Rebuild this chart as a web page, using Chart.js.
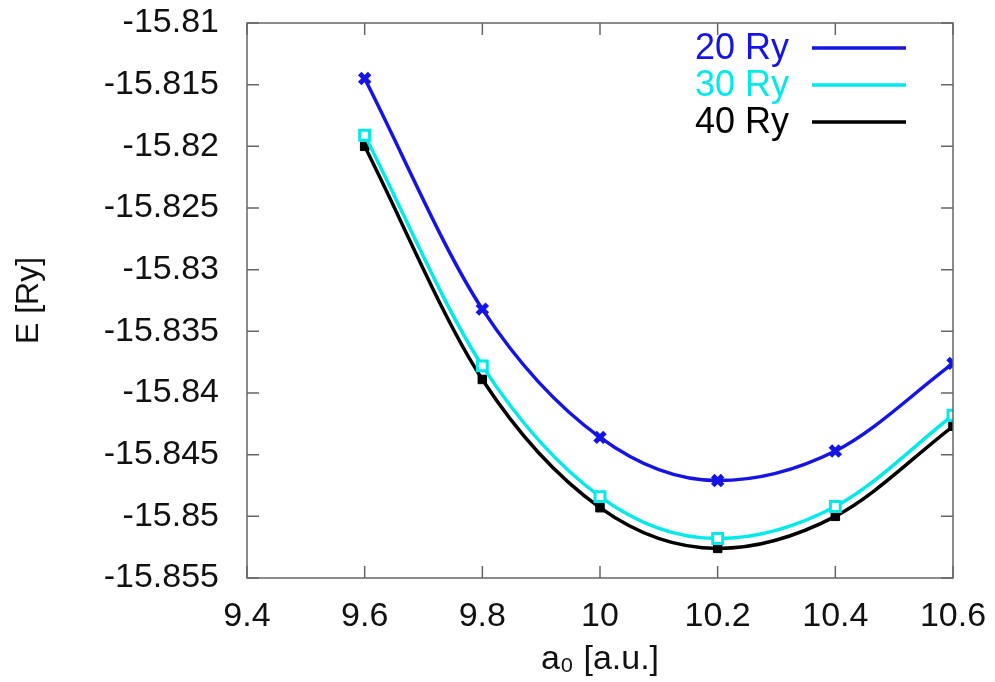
<!DOCTYPE html>
<html lang="en">
<head>
    <meta charset="UTF-8">
    <title>E vs a0</title>
    <script src="https://cdn.jsdelivr.net/npm/chart.js"></script>
    <style>
        body { margin: 0; background: #fff; }
        #wrap { width: 995px; height: 682px; position: relative; }
    </style>
</head>
<body>
    <div id="wrap"><canvas id="myChart"></canvas></div>
    <script>
        // Data
        const latticeConst = [9.6, 9.8, 10.0, 10.2, 10.4, 10.6];
        const energy20 = [-15.8145, -15.8332, -15.8436, -15.8471, -15.8447, -15.8376];
        const energy30 = [-15.8191, -15.8378, -15.8484, -15.8518, -15.8492, -15.8418];
        const energy40 = [-15.8200, -15.8389, -15.8493, -15.8526, -15.8500, -15.8427];
        const seriesNames = ['20 Ry', '30 Ry', '40 Ry'];
        const xTicks = [9.4, 9.6, 9.8, 10.0, 10.2, 10.4, 10.6];
        const yTicks = [-15.855, -15.85, -15.845, -15.84, -15.835, -15.83, -15.825, -15.82, -15.815, -15.81];

        const FONT = 'Liberation Sans';
        const toPts = arr => arr.map((v, i) => ({ x: latticeConst[i], y: v }));

        // gnuplot-like inward tick marks on all four sides + legend at top right
        const gnuplotBits = {
            id: 'gnuplotBits',
            afterDraw(chart) {
                const c = chart.ctx, a = chart.chartArea;
                const xs = chart.scales.x, ys = chart.scales.y;
                c.save();
                c.strokeStyle = '#666';
                c.lineWidth = 1.5;
                c.beginPath();
                xTicks.forEach(v => {
                    const px = xs.getPixelForValue(v);
                    c.moveTo(px, a.bottom); c.lineTo(px, a.bottom - 12);
                    c.moveTo(px, a.top); c.lineTo(px, a.top + 12);
                });
                yTicks.forEach(v => {
                    const py = ys.getPixelForValue(v);
                    c.moveTo(a.left, py); c.lineTo(a.left + 12, py);
                    c.moveTo(a.right, py); c.lineTo(a.right - 12, py);
                });
                c.stroke();
                c.strokeRect(a.left, a.top, a.right - a.left, a.bottom - a.top);

                // legend
                c.font = '36px "' + FONT + '"';
                c.textAlign = 'right';
                c.textBaseline = 'middle';
                chart.data.datasets.forEach((ds, i) => {
                    const y = 49 + i * 37;
                    c.fillStyle = ds.borderColor;
                    c.fillText(ds.label, 789, y);
                    c.strokeStyle = ds.borderColor;
                    c.lineWidth = 3.5;
                    c.beginPath();
                    c.moveTo(812, y - 1); c.lineTo(906, y - 1);
                    c.stroke();
                });
                c.restore();
            }
        };

        const ctx = document.getElementById('myChart').getContext('2d');
        const myChart = new Chart(ctx, {
            type: 'line',
            data: {
                datasets: [{
                    label: seriesNames[0],
                    data: toPts(energy20),
                    borderColor: '#1414e6',
                    backgroundColor: '#1414e6',
                    borderWidth: 3.5,
                    pointStyle: 'crossRot',
                    pointRadius: 7,
                    pointBorderWidth: 5,
                    cubicInterpolationMode: 'monotone'
                }, {
                    label: seriesNames[1],
                    data: toPts(energy30),
                    borderColor: '#00eaea',
                    backgroundColor: '#ffffff',
                    borderWidth: 3.5,
                    pointStyle: 'rect',
                    pointRadius: 7,
                    pointBorderWidth: 3,
                    cubicInterpolationMode: 'monotone'
                }, {
                    label: seriesNames[2],
                    data: toPts(energy40),
                    borderColor: '#000000',
                    backgroundColor: '#000000',
                    borderWidth: 3.5,
                    pointStyle: 'rect',
                    pointRadius: 6,
                    pointBorderWidth: 1,
                    cubicInterpolationMode: 'monotone'
                }]
            },
            options: {
                responsive: true,
                maintainAspectRatio: false,
                animation: false,
                layout: { padding: { top: 23, right: 42, left: 0, bottom: 0 } },
                plugins: { legend: { display: false }, tooltip: { enabled: false } },
                scales: {
                    x: {
                        type: 'linear',
                        min: 9.4, max: 10.6,
                        afterBuildTicks: s => { s.ticks = xTicks.map(v => ({ value: v })); },
                        afterFit: s => { s.height = 104; s.paddingLeft = 0; s.paddingRight = 0; },
                        grid: { display: false },
                        border: { display: false },
                        ticks: {
                            color: '#111',
                            padding: 10,
                            maxRotation: 0,
                            font: { family: FONT, size: 34 },
                            callback: v => String(Number(v.toFixed(1)))
                        },
                        title: {
                            display: true,
                            text: 'a₀ [a.u.]',
                            color: '#111',
                            padding: { top: 2, bottom: 2 },
                            font: { family: FONT, size: 34 }
                        }
                    },
                    y: {
                        min: -15.855, max: -15.81,
                        afterBuildTicks: s => { s.ticks = yTicks.map(v => ({ value: v })); },
                        afterFit: s => { s.width = 247; s.paddingTop = 0; s.paddingBottom = 0; },
                        grid: { display: false },
                        border: { display: false },
                        ticks: {
                            color: '#111',
                            padding: 20,
                            font: { family: FONT, size: 34 },
                            callback: v => String(Number(v.toFixed(3)))
                        },
                        title: {
                            display: true,
                            text: 'E [Ry]',
                            color: '#111',
                            padding: { top: 10, bottom: 0 },
                            font: { family: FONT, size: 32 }
                        }
                    }
                }
            },
            plugins: [gnuplotBits]
        });
    </script>
</body>
</html>
